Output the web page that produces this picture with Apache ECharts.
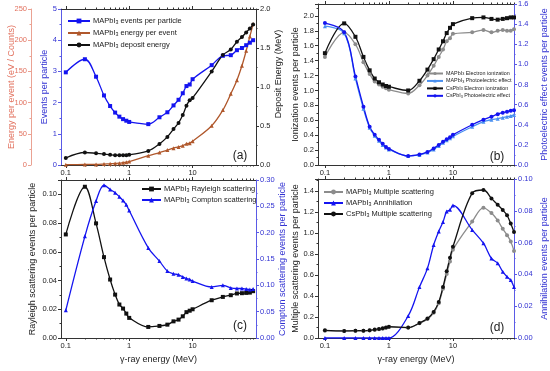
<!DOCTYPE html>
<html><head><meta charset="utf-8">
<script src="https://cdn.jsdelivr.net/npm/echarts@6/dist/echarts.min.js"></script>
<style>html,body{margin:0;padding:0;background:#fff}#c{width:550px;height:371px}</style>
</head><body><div id="c"></div><script>
// ---- data ----
const energy = [0.1,0.2,0.3,0.4,0.5,0.6,0.7,0.8,0.9,1,2,3,4,5,6,7,8,9,10,20,30,40,50,60,70,80,90];
// panel (a)
const aEventsPerParticle = [2.97,3.39,2.83,2.23,1.89,1.68,1.55,1.47,1.42,1.38,1.31,1.53,1.69,1.91,2.09,2.30,2.53,2.58,2.75,3.20,3.50,3.52,3.68,3.75,3.84,3.92,4.00];
const aEnergyPerEvent = [0.5,0.8,1,1.5,2,2.5,3,3.8,4.5,5.5,15,20,24,27,29,31,34,35,38,63,88,114,136,159,183,206,226];
const aDepositEnergy = [0.09,0.16,0.15,0.14,0.13,0.125,0.125,0.125,0.125,0.13,0.18,0.27,0.36,0.46,0.54,0.64,0.76,0.83,0.86,1.2,1.41,1.48,1.58,1.64,1.70,1.75,1.80];
// panel (b)
const bMAPbI3Ionization = [1.45,1.78,1.62,1.38,1.22,1.12,1.08,1.05,1.03,1.01,0.96,1.07,1.20,1.33,1.45,1.55,1.66,1.70,1.76,1.78,1.81,1.78,1.80,1.81,1.80,1.80,1.82];
const bMAPbI3Photoelectric = [1.38,1.31,0.86,0.56,0.37,0.29,0.24,0.20,0.175,0.155,0.09,0.10,0.125,0.155,0.19,0.22,0.245,0.265,0.285,0.38,0.43,0.45,0.46,0.47,0.48,0.487,0.497];
const bCsPbI3Ionization = [1.50,1.90,1.72,1.45,1.27,1.16,1.11,1.08,1.06,1.05,1.00,1.13,1.28,1.42,1.55,1.66,1.77,1.84,1.89,1.97,1.98,1.96,1.95,1.96,1.97,1.98,1.98];
const bCsPbI3Photoelectric = [1.41,1.32,0.88,0.58,0.38,0.30,0.25,0.21,0.18,0.16,0.09,0.105,0.13,0.165,0.20,0.23,0.255,0.275,0.30,0.40,0.45,0.48,0.505,0.52,0.53,0.54,0.545];
// panel (c)
const cRayleigh = [0.0721,0.1053,0.0798,0.0563,0.0407,0.0302,0.0233,0.0205,0.017,0.014,0.0077,0.0084,0.0093,0.0116,0.0128,0.0151,0.018,0.019,0.020,0.0263,0.0286,0.0298,0.031,0.0312,0.0314,0.0316,0.0326];
const cCompton = [0.0525,0.193,0.26,0.29,0.282,0.276,0.268,0.261,0.253,0.242,0.171,0.146,0.127,0.122,0.120,0.116,0.113,0.111,0.108,0.097,0.100,0.095,0.094,0.094,0.093,0.092,0.093];
// panel (d)
const dMAPbI3Multiple = [0.07,0.066,0.068,0.069,0.071,0.077,0.083,0.089,0.097,0.105,0.097,0.14,0.18,0.24,0.33,0.47,0.61,0.73,0.84,1.11,1.24,1.19,1.12,1.04,0.98,0.92,0.83];
const dAnnihilation = [0,0,0,0,0,0,0,0,0,0,0.0139,0.032,0.0438,0.0585,0.067,0.073,0.0796,0.0806,0.0834,0.068,0.0596,0.050,0.047,0.0417,0.0385,0.0364,0.032];
const dCsPbI3Multiple = [0.073,0.067,0.07,0.07,0.073,0.08,0.086,0.092,0.10,0.108,0.099,0.143,0.185,0.248,0.344,0.487,0.637,0.764,0.87,1.38,1.41,1.33,1.27,1.22,1.17,1.09,1.01];
// ticks
const xMajorTicks = [0.1,1,10];
const xMinorTicks = [0.2,0.3,0.4,0.5,0.6,0.7,0.8,0.9,2,3,4,5,6,7,8,9,20,30,40,50,60,70,80,90];
const panelLabels = ['(a)','(b)','(c)','(d)'];

// ---- styling ----
const FONT = '"Liberation Sans", Arial, sans-serif';
const BLUE = '#1414f0', LBLUE = '#4a90f0', GRAY = '#8c8c8c', BLACK = '#111111', BROWN = '#b0582c';
const BLUE_AX = '#5a5ae6', BLUE_TX = '#3232d2', RED_AX = '#eaa293', RED_TX = '#e2725f', AX = '#333333', TX = '#222222';

const grids = [
  {left:61, top:9, width:195, height:156},
  {left:318, top:4, width:196, height:161},
  {left:61, top:180, width:195, height:158},
  {left:318, top:179, width:196, height:159}
];
const xRanges = [[0.084,100],[0.078,90],[0.084,100],[0.078,90]];

function fmtX(v){ return String(Math.round(v*1000)/1000); }
function xAxes(g){
  const [mn,mx] = xRanges[g];
  const base = {type:'log', logBase:10, gridIndex:g, min:mn, max:mx, splitLine:{show:false}, splitArea:{show:false},
    axisLine:{show:true, onZero:false, lineStyle:{color:AX, width:1}}};
  const major = {show:true, inside:false, length:3, customValues:xMajorTicks, lineStyle:{color:AX}};
  const minor = {show:true, inside:false, length:1.5, customValues:xMinorTicks, lineStyle:{color:AX}};
  return [
    Object.assign({}, base, {position:'bottom', axisTick:major,
      axisLabel:{show:true, customValues:xMajorTicks, fontSize:7.5, color:TX, margin:4, fontFamily:FONT, formatter:fmtX},
      name: g>=2 ? 'γ-ray energy (MeV)' : '', nameLocation:'middle', nameGap:17,
      nameTextStyle:{fontSize:9, color:TX, fontFamily:FONT}}),
    Object.assign({}, base, {position:'bottom', axisLine:{show:false, onZero:false}, axisTick:minor, axisLabel:{show:false}}),
    Object.assign({}, base, {position:'top', axisTick:major, axisLabel:{show:false}}),
    Object.assign({}, base, {position:'top', axisLine:{show:false, onZero:false}, axisTick:minor, axisLabel:{show:false}})
  ];
}
function yAx(o){
  const ax = {type:'value', gridIndex:o.g, position:o.pos, offset:o.offset||0, min:0, max:o.max, interval:o.interval,
    axisLine:{show:true, onZero:false, lineStyle:{color:o.axc||AX}},
    axisTick:{show:true, inside:false, length:3, lineStyle:{color:o.axc||AX}},
    minorTick:{show:true, splitNumber:2, length:1.5, lineStyle:{color:o.axc||AX}},
    splitLine:{show:false},
    axisLabel:{fontSize:7.5, color:o.txc||TX, margin:4, fontFamily:FONT,
      formatter: v => v > o.labelMax + 1e-9 ? '' : v.toFixed(o.dec)},
    name:o.name, nameLocation:'middle', nameRotate:90, nameGap:o.gap,
    nameTextStyle:Object.assign({fontSize:9, color:o.txc||TX, fontFamily:FONT}, o.nameStyle||{})
  };
  if (o.noMove) ax.nameMoveOverlap = false;
  return ax;
}
const yAxes = [
  yAx({g:0,pos:'left',max:5,interval:1,dec:0,labelMax:5,axc:BLUE_AX,txc:BLUE_TX,name:'Events per particle',gap:11}),
  yAx({g:0,pos:'left',offset:30,max:250,interval:50,dec:0,labelMax:250,axc:RED_AX,txc:RED_TX,name:'Energy per event (eV / Counts)',gap:15,noMove:true}),
  yAx({g:0,pos:'right',max:2,interval:0.5,dec:1,labelMax:2,name:'Deposit Energy (MeV)',gap:17,nameStyle:{padding:[0,0,0,26]}}),
  yAx({g:1,pos:'left',max:2.16,interval:0.2,dec:1,labelMax:2.0,name:'Ionization events per particle',gap:16}),
  yAx({g:1,pos:'right',max:1.6,interval:0.2,dec:1,labelMax:1.6,axc:BLUE_AX,txc:BLUE_TX,name:'Photoelectric effect events per particle',gap:26}),
  yAx({g:2,pos:'left',max:0.11,interval:0.02,dec:2,labelMax:0.10,name:'Rayleigh scattering events per particle',gap:24}),
  yAx({g:2,pos:'right',max:0.30,interval:0.05,dec:2,labelMax:0.30,axc:BLUE_AX,txc:BLUE_TX,name:'Compton scattering events per particle',gap:21}),
  yAx({g:3,pos:'left',max:1.515,interval:0.2,dec:1,labelMax:1.4,name:'Multiple scattering events per particle',gap:11}),
  yAx({g:3,pos:'right',max:0.10,interval:0.02,dec:2,labelMax:0.10,axc:BLUE_AX,txc:BLUE_TX,name:'Annihilation events per particle',gap:26})
];
let xAxisList = [];
for (let g=0; g<4; g++) xAxisList = xAxisList.concat(xAxes(g));

function ser(name, g, yIdx, vals, symbol, color, size){
  return {type:'line', name, xAxisIndex:g*4, yAxisIndex:yIdx,
    data: energy.map((e,i)=>[e, vals[i]]),
    smooth:0.35, symbol, symbolSize:size||4, showSymbol:true,
    lineStyle:{width:1.3, color}, itemStyle:{color}, emphasis:{disabled:true}, clip:true};
}
const series = [
  ser('MAPbI3 events per particle',0,0,aEventsPerParticle,'rect',BLUE),
  ser('MAPbI3 energy per event',0,1,aEnergyPerEvent,'triangle',BROWN),
  ser('MAPbI3 deposit energy',0,2,aDepositEnergy,'circle',BLACK),
  ser('MAPbI3 Electron ionization',1,3,bMAPbI3Ionization,'circle',GRAY),
  ser('MAPbI3 Photoelectric effect',1,4,bMAPbI3Photoelectric,'triangle',LBLUE),
  ser('CsPbI3 Electron ionization',1,3,bCsPbI3Ionization,'rect',BLACK),
  ser('CsPbI3 Photoelectric effect',1,4,bCsPbI3Photoelectric,'circle',BLUE),
  ser('MAPbI3 Rayleigh scattering',2,5,cRayleigh,'rect',BLACK),
  ser('MAPbI3 Compton scattering',2,6,cCompton,'triangle',BLUE),
  ser('MAPbI3 Multiple scattering',3,7,dMAPbI3Multiple,'circle',GRAY),
  ser('MAPbI3 Annihilation',3,8,dAnnihilation,'triangle',BLUE),
  ser('CsPbI3 Multiple scattering',3,7,dCsPbI3Multiple,'circle',BLACK)
];
function subFmt(n){ return n.replace('PbI3','PbI{sub|3}'); }
function legend(names, left, top, fs, iw, gap){
  return {orient:'vertical', left, top, itemWidth:iw, itemHeight:Math.round(fs*0.8), itemGap:gap,
    data:names, formatter:subFmt, selectedMode:false, padding:0,
    textStyle:{fontSize:fs, color:TX, fontFamily:FONT, padding:[0,0,0,-2],
      rich:{sub:{fontSize:fs*0.7, color:TX, fontFamily:FONT, verticalAlign:'bottom', padding:[fs*0.35,0,0,0]}}}};
}
const legends = [
  legend(series.slice(0,3).map(s=>s.name), 67, 17, 7.5, 22, 4),
  legend(series.slice(3,7).map(s=>s.name), 426, 71, 5.4, 16, 2),
  legend(series.slice(7,9).map(s=>s.name), 141, 185, 7.5, 19, 3),
  legend(series.slice(9,12).map(s=>s.name), 323, 188, 7.5, 19, 3)
];
const labelPos = [[240,156],[497,157],[240,326],[497,328]];
const graphics = panelLabels.map((t,i)=>({type:'text', x:labelPos[i][0], y:labelPos[i][1], silent:true,
  style:{text:t, fontSize:12, fill:TX, fontFamily:FONT, align:'center', verticalAlign:'middle'}}));

const chart = echarts.init(document.getElementById('c'), null, {renderer:'canvas'});
chart.setOption({
  animation:false, backgroundColor:'#ffffff',
  textStyle:{fontFamily:FONT},
  grid:grids, xAxis:xAxisList, yAxis:yAxes, series, legend:legends, graphic:graphics, tooltip:{show:false}
});
</script></body></html>
